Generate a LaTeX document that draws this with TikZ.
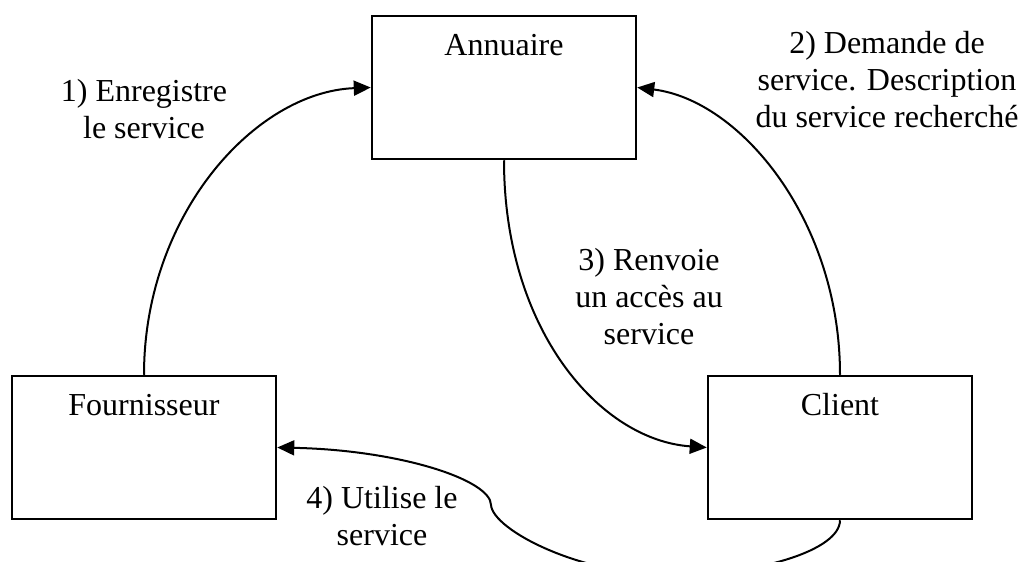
\documentclass[tikz,border=0pt]{standalone}
\usepackage{fontspec}
\setmainfont{Liberation Serif}
\usetikzlibrary{arrows.meta}
\begin{document}
\begin{tikzpicture}[x=1pt,y=-1pt,
  box/.style={draw=black, line width=2.5pt, rectangle, minimum width=264pt, minimum height=143pt, inner sep=0pt, fill=white},
  lbl/.style={font=\fontsize{32}{37}\selectfont, align=center, anchor=base, inner sep=0pt},
  conn/.style={line width=2pt, -{Triangle[length=17pt,width=15pt]}}]
\useasboundingbox[fill=white] (0,0) rectangle (1021,562);
\node[box] (ann) at (504,87.5) {};
\node[box] (fou) at (144,447.5) {};
\node[box] (cli) at (840,447.5) {};
\node[lbl] (annt) at (504,55) {Annuaire};
\node[lbl] (fout) at (144,415) {Fournisseur};
\node[lbl] (clit) at (840,415) {Client};
\node[lbl] (l1) at (144,138) {1) Enregistre\\le service};
\node[lbl] (l2) at (887,127) {2) Demande de\\service. Description\\du service recherché};
\node[lbl] (l3) at (649,344) {3) Renvoie\\un accès au\\service};
\node[lbl] (l4) at (382,545) {4) Utilise le\\service};
\coordinate (w) at (491,505);
\coordinate (lo) at (670,575);
\draw[conn] (fou.north) .. controls (144,215) and (255,92) .. (ann.west);
\draw[conn] (cli.north) .. controls (840,220) and (740,100) .. (ann.east);
\draw[conn] (ann.south) .. controls (504,330) and (600,440) .. (cli.west);
\draw[conn] (cli.south) .. controls (840,550) and (760,575) .. (lo) .. controls (580,575) and (493,530) .. (w) .. controls (491,480) and (400,450) .. (fou.east);
\end{tikzpicture}
\end{document}
